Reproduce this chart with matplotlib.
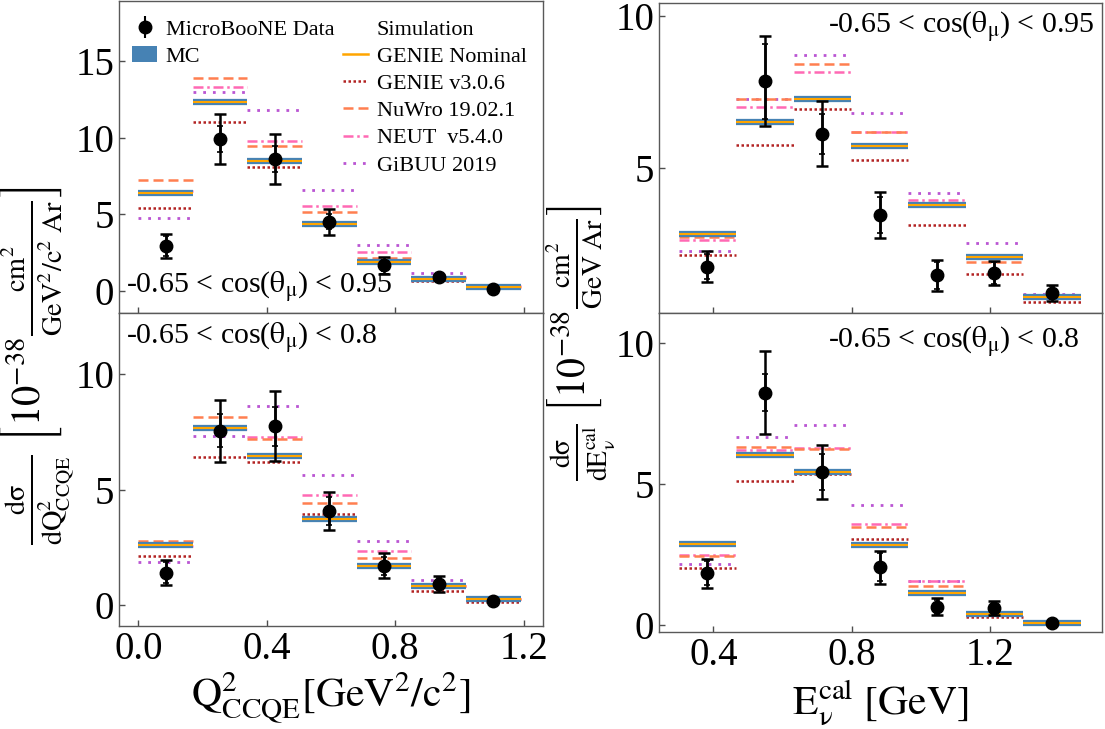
import numpy as np
import matplotlib
matplotlib.use("Agg")
import matplotlib.pyplot as plt
from matplotlib.lines import Line2D
from matplotlib.patches import Patch

plt.rcParams['font.family'] = ['Liberation Serif', 'DejaVu Serif']
plt.rcParams['mathtext.fontset'] = 'stix'

# bin edges
q2_edges = [0.0, 0.17, 0.34, 0.51, 0.68, 0.85, 1.02, 1.19]
e_edges = [0.3, 0.466, 0.632, 0.798, 0.964, 1.13, 1.296, 1.462]

# Q2 CCQE, -0.65 < cos < 0.95
q2a_data = [2.94, 9.91, 8.61, 4.52, 1.67, 0.89, 0.15]
q2a_err = [0.80, 1.64, 1.63, 0.85, 0.53, 0.15, 0.05]
q2a_stat = [0.63, 0.87, 0.87, 0.50, 0.35, 0.10, 0.03]
q2a_mc = [6.37, 12.31, 8.46, 4.37, 1.89, 0.80, 0.28]
q2a_genie3 = [5.39, 11.02, 8.09, 4.52, 1.87, 0.65, 0.24]
q2a_nuwro = [7.26, 13.89, 9.48, 5.13, 2.17, 0.83, 0.28]
q2a_neut = [6.50, 13.28, 9.78, 5.52, 2.52, 0.89, 0.33]
q2a_gibuu = [4.78, 12.98, 11.78, 6.59, 3.00, 1.15, 0.35]

# Q2 CCQE, -0.65 < cos < 0.8
q2b_data = [1.41, 7.55, 7.75, 4.07, 1.70, 0.92, 0.19]
q2b_err = [0.53, 1.34, 1.52, 0.81, 0.54, 0.33, 0.05]
q2b_stat = [0.44, 0.72, 0.84, 0.60, 0.40, 0.25, 0.03]
q2b_mc = [2.61, 7.66, 6.46, 3.75, 1.71, 0.81, 0.26]
q2b_genie3 = [2.12, 6.42, 6.22, 3.95, 1.74, 0.63, 0.16]
q2b_nuwro = [2.80, 8.14, 7.19, 4.43, 2.03, 0.81, 0.26]
q2b_neut = [2.57, 7.61, 7.29, 4.77, 2.34, 0.84, 0.29]
q2b_gibuu = [1.86, 7.34, 8.63, 5.63, 2.78, 1.11, 0.35]

# E_nu cal, -0.65 < cos < 0.95
ea_data = [1.73, 7.85, 6.12, 3.44, 1.44, 1.52, 0.87]
ea_err = [0.52, 1.49, 1.08, 0.75, 0.51, 0.41, 0.27]
ea_stat = [0.41, 1.24, 0.66, 0.59, 0.45, 0.35, 0.22]
ea_mc = [2.80, 6.52, 7.26, 5.72, 3.75, 2.04, 0.74]
ea_genie3 = [2.13, 5.75, 6.94, 5.26, 3.09, 1.50, 0.55]
ea_nuwro = [2.72, 7.26, 8.41, 6.19, 3.80, 1.89, 0.69]
ea_neut = [2.61, 6.99, 8.16, 6.18, 3.92, 2.10, 0.78]
ea_gibuu = [2.26, 7.27, 8.70, 6.80, 4.15, 2.50, 0.82]

# E_nu cal, -0.65 < cos < 0.8
eb_data = [1.83, 8.23, 5.41, 2.04, 0.65, 0.59, 0.06]
eb_err = [0.52, 1.46, 0.96, 0.58, 0.29, 0.25, 0.05]
eb_stat = [0.43, 0.66, 0.63, 0.50, 0.25, 0.20, 0.03]
eb_mc = [2.87, 6.01, 5.41, 2.83, 1.12, 0.38, 0.06]
eb_genie3 = [2.01, 5.08, 5.36, 3.03, 1.14, 0.29, 0.03]
eb_nuwro = [2.45, 6.29, 6.24, 3.48, 1.37, 0.38, 0.06]
eb_neut = [2.47, 6.20, 6.28, 3.57, 1.57, 0.41, 0.08]
eb_gibuu = [2.16, 6.65, 7.08, 4.24, 1.57, 0.41, 0.08]

c_mc = '#4682b4'
c_nom = '#ffa500'
c_g3 = '#b22222'
c_nuwro = '#ff7f50'
c_neut = '#ff69b4'
c_gibuu = '#ba55d3'

ls_g3 = (0, (1, 1))
ls_nuwro = (0, (4, 2))
ls_neut = (0, (4, 1.5, 1, 1.5))
ls_gibuu = (0, (1, 2.5))


def draw_panel(ax, edges, data, err, stat, mc, g3, nuwro, neut, gibuu):
    lo = np.array(edges[:-1])
    hi = np.array(edges[1:])
    mid = 0.5 * (lo + hi)
    ax.hlines(gibuu, lo, hi, color=c_gibuu, lw=2, linestyle=ls_gibuu)
    ax.hlines(neut, lo, hi, color=c_neut, lw=1.8, linestyle=ls_neut)
    ax.hlines(nuwro, lo, hi, color=c_nuwro, lw=1.8, linestyle=ls_nuwro)
    ax.hlines(g3, lo, hi, color=c_g3, lw=1.8, linestyle=ls_g3)
    ax.hlines(mc, lo, hi, color=c_mc, lw=4.5)
    ax.hlines(mc, lo, hi, color=c_nom, lw=1.5)
    # total errors with wide caps, stat-only errors with small inner ticks
    ax.errorbar(mid, data, yerr=err, fmt='o', color='black', ms=9,
                elinewidth=1.8, capsize=4, capthick=1.8, zorder=5)
    ax.errorbar(mid, data, yerr=stat, fmt='none', ecolor='black',
                elinewidth=1.8, capsize=2.5, capthick=1.2, zorder=5)


def style(ax):
    ax.tick_params(direction='in', length=4, width=1, labelsize=28, color='0.3')
    for s in ax.spines.values():
        s.set_color('0.35')
        s.set_linewidth(1)


fig = plt.figure(figsize=(11.05, 7.29), dpi=100)
ax1 = fig.add_axes([0.1077, 0.5706, 0.3837, 0.428])
ax2 = fig.add_axes([0.1077, 0.1413, 0.3837, 0.4294])
ax3 = fig.add_axes([0.5964, 0.5706, 0.4009, 0.4252])
ax4 = fig.add_axes([0.5964, 0.1331, 0.4009, 0.4376])

draw_panel(ax1, q2_edges, q2a_data, q2a_err, q2a_stat, q2a_mc, q2a_genie3, q2a_nuwro, q2a_neut, q2a_gibuu)
draw_panel(ax2, q2_edges, q2b_data, q2b_err, q2b_stat, q2b_mc, q2b_genie3, q2b_nuwro, q2b_neut, q2b_gibuu)
draw_panel(ax3, e_edges, ea_data, ea_err, ea_stat, ea_mc, ea_genie3, ea_nuwro, ea_neut, ea_gibuu)
draw_panel(ax4, e_edges, eb_data, eb_err, eb_stat, eb_mc, eb_genie3, eb_nuwro, eb_neut, eb_gibuu)

for ax in (ax1, ax2):
    ax.set_xlim(-0.06, 1.26)
    ax.set_xticks([0.0, 0.4, 0.8, 1.2])
for ax in (ax3, ax4):
    ax.set_xlim(0.243, 1.524)
    ax.set_xticks([0.4, 0.8, 1.2])
ax1.set_ylim(-1.43, 18.9)
ax1.set_yticks([0, 5, 10, 15])
ax2.set_ylim(-0.9, 12.65)
ax2.set_yticks([0, 5, 10])
ax3.set_ylim(0.2, 10.43)
ax3.set_yticks([5, 10])
ax4.set_ylim(-0.25, 11.05)
ax4.set_yticks([0, 5, 10])
for ax in (ax1, ax3):
    ax.set_xticklabels([])
for ax in (ax1, ax2, ax3, ax4):
    style(ax)
ax2.set_xticklabels(['0.0', '0.4', '0.8', '1.2'])
ax4.set_xticklabels(['0.4', '0.8', '1.2'])

ax2.set_xlabel(r'$\mathrm{Q^2_{CCQE}[GeV^2/c^2]}$', fontsize=30, labelpad=2)
ax4.set_xlabel(r'$\mathrm{E_\nu^{cal}\ [GeV]}$', fontsize=30, labelpad=2)

fig.text(0.034, 0.498,
         r'$\mathrm{\frac{d\sigma}{dQ^2_{CCQE}}\ \left[10^{-38}\frac{cm^2}{GeV^2/c^2\ Ar}\right]}$',
         rotation=90, ha='center', va='center', fontsize=29)
fig.text(0.526, 0.529,
         r'$\mathrm{\frac{d\sigma}{dE_\nu^{cal}}\ \left[10^{-38}\frac{cm^2}{GeV\ Ar}\right]}$',
         rotation=90, ha='center', va='center', fontsize=28.5)

ax1.text(0.017, 0.03, r'-0.65 < cos($\mathrm{\theta_\mu}$) < 0.95', transform=ax1.transAxes,
         fontsize=21.5, va='bottom', ha='left')
ax2.text(0.017, 0.975, r'-0.65 < cos($\mathrm{\theta_\mu}$) < 0.8', transform=ax2.transAxes,
         fontsize=21.5, va='top', ha='left')
ax3.text(0.982, 0.977, r'-0.65 < cos($\mathrm{\theta_\mu}$) < 0.95', transform=ax3.transAxes,
         fontsize=21.5, va='top', ha='right')
ax4.text(0.95, 0.962, r'-0.65 < cos($\mathrm{\theta_\mu}$) < 0.8', transform=ax4.transAxes,
         fontsize=21.5, va='top', ha='right')

# legend: data + MC in the first column, simulation list in the second
blank = Line2D([], [], color='none')
h_data = ax1.errorbar([], [], yerr=[], fmt='o', color='black', ms=9, capsize=4)
h_mc = Patch(facecolor=c_mc, edgecolor='none')
handles = [h_data, h_mc, blank, blank, blank, blank,
           blank,
           Line2D([], [], color=c_nom, lw=1.8),
           Line2D([], [], color=c_g3, lw=1.8, linestyle=ls_g3),
           Line2D([], [], color=c_nuwro, lw=1.8, linestyle=ls_nuwro),
           Line2D([], [], color=c_neut, lw=1.8, linestyle=ls_neut),
           Line2D([], [], color=c_gibuu, lw=2, linestyle=ls_gibuu)]
labels = ['MicroBooNE Data', 'MC', '', '', '', '',
          'Simulation', 'GENIE Nominal', 'GENIE v3.0.6', 'NuWro 19.02.1',
          'NEUT  v5.4.0', 'GiBUU 2019']
ax1.legend(handles, labels, ncol=2, loc='upper left', bbox_to_anchor=(0.0, 0.985),
           frameon=False, fontsize=16, handlelength=1.1, handletextpad=0.4,
           labelspacing=0.3, columnspacing=0.4, borderaxespad=0.2)

fig.savefig('out.png', dpi=100)
